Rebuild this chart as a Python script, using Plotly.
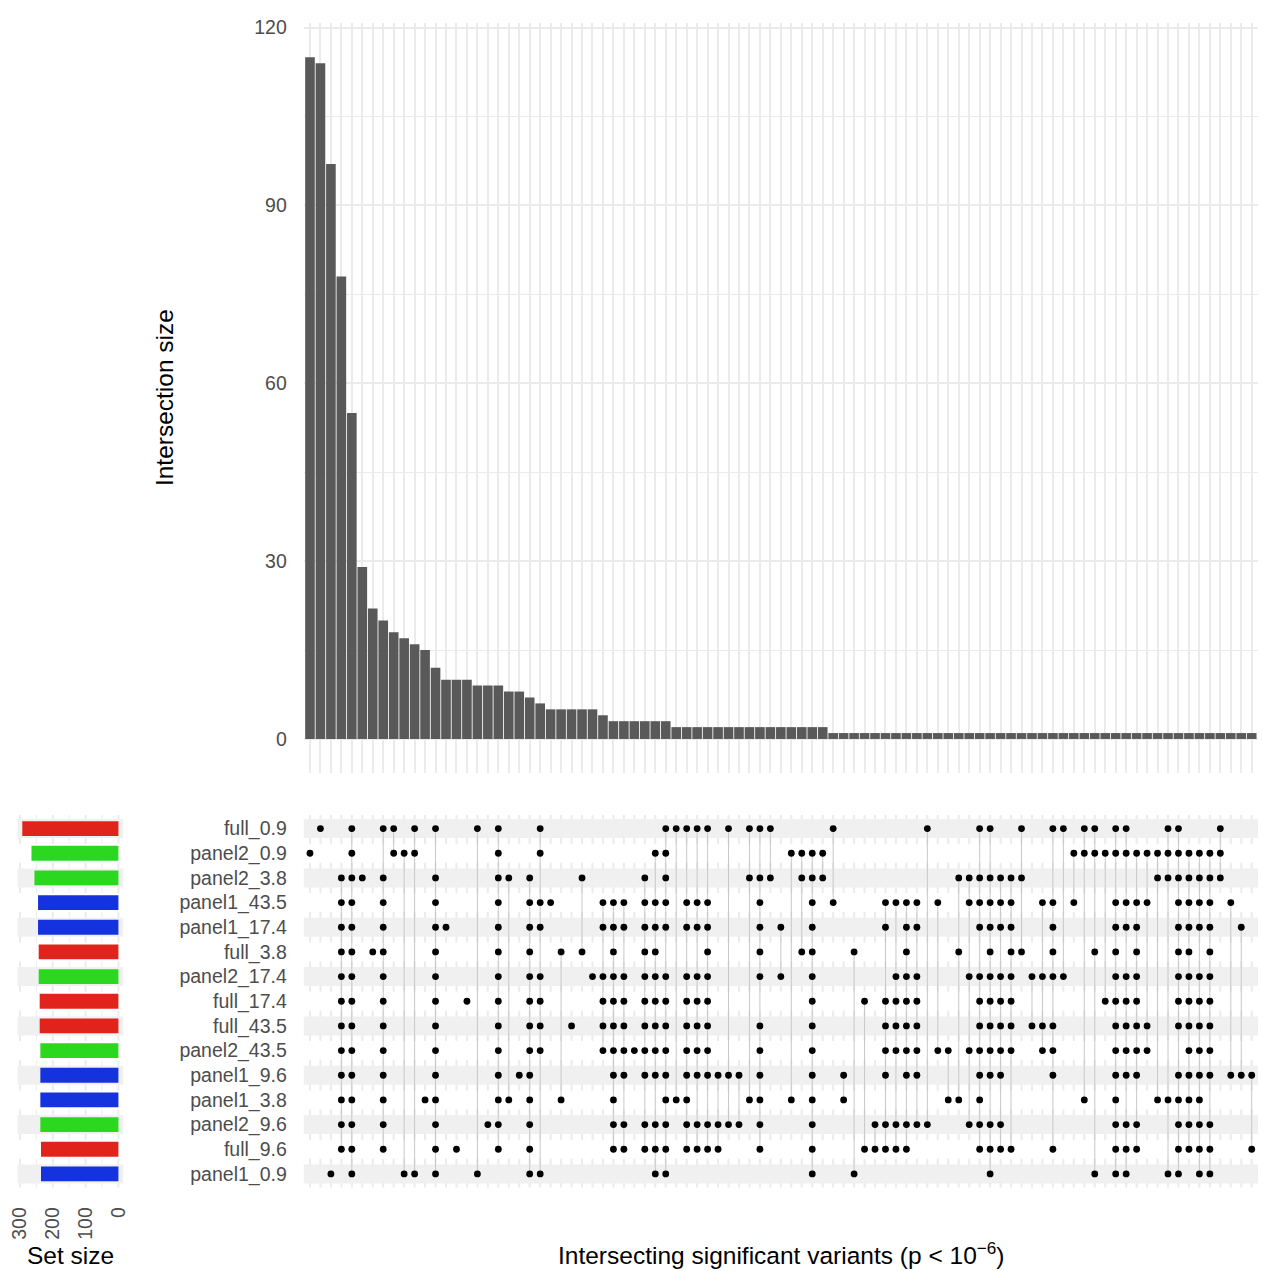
import plotly.graph_objects as go

# ---------------- data ----------------
sets = ["full_0.9", "panel2_0.9", "panel2_3.8", "panel1_43.5", "panel1_17.4",
        "full_3.8", "panel2_17.4", "full_17.4", "full_43.5", "panel2_43.5",
        "panel1_9.6", "panel1_3.8", "panel2_9.6", "full_9.6", "panel1_0.9"]
set_sizes = [293, 265, 256, 245, 245, 243, 243, 240, 240, 238, 238, 238, 238, 236, 236]
set_group = ["full", "panel2", "panel2", "panel1", "panel1", "full", "panel2", "full",
             "full", "panel2", "panel1", "panel1", "panel2", "full", "panel1"]

intersection_sizes = [115, 114, 97, 78, 55, 29, 22, 20, 18, 17, 16, 15, 12, 10, 10, 10,
                      9, 9, 9, 8, 8, 7, 6, 5, 5, 5, 5, 5, 4, 3, 3, 3, 3, 3, 3,
                      2, 2, 2, 2, 2, 2, 2, 2, 2, 2, 2, 2, 2, 2, 2,
                      1, 1, 1, 1, 1, 1, 1, 1, 1, 1, 1, 1, 1, 1, 1, 1, 1, 1, 1, 1,
                      1, 1, 1, 1, 1, 1, 1, 1, 1, 1, 1, 1, 1, 1, 1, 1, 1, 1, 1, 1, 1]

# intersection (column) indices that contain each set
m_full_0_9 = [1, 4, 7, 8, 10, 12, 16, 18, 22, 34, 35, 36, 37, 38, 40, 42, 43, 44, 50, 59, 64, 65,
              68, 71, 72, 74, 75, 77, 78, 82, 83, 87]
m_panel2_0_9 = [0, 4, 8, 9, 10, 18, 22, 33, 34, 46, 47, 48, 49, 73, 74, 75, 76, 77, 78, 79, 80,
                81, 82, 83, 84, 85, 86, 87]
m_panel2_3_8 = [3, 4, 5, 7, 12, 18, 19, 21, 26, 32, 34, 42, 43, 44, 47, 48, 49, 62, 63, 64, 65,
                66, 67, 68, 81, 82, 83, 84, 85, 86, 87]
m_panel1_43_5 = [3, 4, 7, 12, 18, 21, 22, 23, 28, 29, 30, 32, 33, 34, 36, 37, 38, 43, 48, 50, 55,
                 56, 57, 58, 60, 63, 64, 65, 66, 67, 70, 71, 73, 77, 78, 79, 80, 83, 84, 85, 86, 88]
m_panel1_17_4 = [3, 4, 7, 12, 13, 18, 21, 22, 28, 29, 30, 32, 33, 34, 36, 37, 38, 43, 45, 48, 55,
                 57, 58, 64, 65, 66, 67, 71, 77, 78, 79, 83, 84, 85, 86, 89]
m_full_3_8 = [3, 4, 6, 7, 12, 18, 21, 24, 26, 29, 32, 33, 38, 43, 47, 48, 52, 57, 62, 65, 67, 68,
              71, 75, 77, 79, 83, 84, 86]
m_panel2_17_4 = [3, 4, 7, 12, 18, 21, 22, 27, 28, 29, 30, 32, 33, 34, 36, 37, 38, 43, 45, 48, 56,
                 57, 58, 63, 64, 65, 66, 67, 69, 70, 71, 72, 77, 78, 79, 83, 84, 85, 86]
m_full_17_4 = [3, 4, 7, 12, 15, 18, 21, 22, 28, 29, 30, 32, 33, 34, 36, 37, 38, 48, 53, 55, 56,
               57, 58, 64, 65, 66, 67, 76, 77, 78, 79, 83, 84, 85, 86]
m_full_43_5 = [3, 4, 7, 12, 18, 21, 22, 25, 28, 29, 30, 32, 33, 34, 36, 37, 38, 43, 48, 55, 56,
               57, 58, 64, 65, 66, 67, 69, 70, 71, 77, 78, 79, 80, 83, 84, 85, 86]
m_panel2_43_5 = [3, 4, 7, 12, 18, 21, 22, 28, 29, 30, 31, 32, 33, 34, 36, 37, 38, 43, 48, 55, 56,
                 57, 58, 60, 61, 63, 64, 65, 66, 67, 70, 71, 77, 78, 79, 80, 84, 85, 86]
m_panel1_9_6 = [3, 4, 7, 12, 18, 20, 21, 29, 30, 32, 33, 34, 36, 37, 38, 39, 40, 41, 43, 48, 51,
                55, 57, 58, 64, 65, 66, 71, 77, 78, 79, 83, 84, 85, 86, 88, 89, 90]
m_panel1_3_8 = [3, 4, 7, 11, 12, 18, 19, 21, 24, 29, 34, 35, 36, 42, 43, 46, 48, 51, 61, 62, 64,
                74, 77, 81, 82, 83, 84, 85]
m_panel2_9_6 = [3, 4, 7, 12, 17, 18, 21, 29, 30, 32, 33, 34, 36, 37, 38, 39, 40, 41, 43, 48, 54,
                55, 56, 57, 58, 59, 63, 64, 65, 66, 77, 78, 79, 83, 84, 85, 86]
m_full_9_6 = [3, 4, 7, 12, 14, 18, 21, 29, 30, 32, 33, 34, 36, 37, 38, 39, 43, 48, 53, 54, 55,
              56, 57, 64, 65, 66, 67, 71, 77, 78, 79, 83, 84, 85, 86, 90]
m_panel1_0_9 = [2, 4, 9, 10, 12, 16, 21, 22, 33, 34, 48, 52, 65, 75, 77, 78, 82, 83, 85, 86]

membership = [m_full_0_9, m_panel2_0_9, m_panel2_3_8, m_panel1_43_5, m_panel1_17_4,
              m_full_3_8, m_panel2_17_4, m_full_17_4, m_full_43_5, m_panel2_43_5,
              m_panel1_9_6, m_panel1_3_8, m_panel2_9_6, m_full_9_6, m_panel1_0_9]

bar_ticks = [0, 30, 60, 90, 120]
bar_minor = [15, 45, 75, 105]
set_ticks = [0, 100, 200, 300]
set_minor = [50, 150, 250]

# ---------------- styles ----------------
group_colors = {"full": "#E1241B", "panel2": "#2BD81F", "panel1": "#1532DF"}
FONT = "Liberation Sans, Arial, sans-serif"
W, H = 1263, 1271
GRID = "#ebebeb"
TICK_COL = "#4d4d4d"

cols = list(range(len(intersection_sizes)))
rows = list(range(len(sets)))


def fx(x):  # window px -> paper x
    return x / W


def fy(y):  # window px -> paper y
    return 1 - y / H


fig = go.Figure()

# intersection bars
fig.add_trace(go.Bar(x=cols, y=intersection_sizes, width=0.92, marker_color="#595959",
                     marker_line_width=0, xaxis="x", yaxis="y", hoverinfo="y"))

# connecting lines in matrix
lx, ly = [], []
for c in cols:
    r = [i for i, m in enumerate(membership) if c in m]
    if len(r) > 1:
        lx += [c, c, None]
        ly += [min(r), max(r), None]
fig.add_trace(go.Scatter(x=lx, y=ly, mode="lines", line=dict(color="#c8c8c8", width=1),
                         xaxis="x2", yaxis="y2", hoverinfo="skip"))

# dots
dx, dy = [], []
for i, m in enumerate(membership):
    for c in m:
        dx.append(c)
        dy.append(i)
fig.add_trace(go.Scatter(x=dx, y=dy, mode="markers",
                         marker=dict(color="black", size=6.8, line=dict(width=0)),
                         xaxis="x2", yaxis="y2"))

# set size bars
fig.add_trace(go.Bar(x=set_sizes, y=rows, orientation="h", width=0.6,
                     marker_color=[group_colors[g] for g in set_group], marker_line_width=0,
                     xaxis="x3", yaxis="y3"))

# gridlines of matrix + set size panels (drawn as shapes below the row bands)
shapes = []
for c in cols:
    shapes.append(dict(type="line", xref="x2", yref="y2 domain", x0=c, x1=c, y0=0, y1=1,
                       line=dict(color=GRID, width=2), layer="below"))
for v in set_ticks:
    shapes.append(dict(type="line", xref="x3", yref="y3 domain", x0=v, x1=v, y0=0, y1=1,
                       line=dict(color=GRID, width=2), layer="below"))
for v in set_minor:
    shapes.append(dict(type="line", xref="x3", yref="y3 domain", x0=v, x1=v, y0=0, y1=1,
                       line=dict(color=GRID, width=1), layer="below"))
# row bands
for i in rows:
    fill = "#f0f0f0" if i % 2 == 0 else "white"
    for xr_, yr_ in (("x2 domain", "y2"), ("x3 domain", "y3")):
        shapes.append(dict(type="rect", xref=xr_, yref=yr_, x0=0, x1=1,
                           y0=i - 0.385, y1=i + 0.385,
                           fillcolor=fill, line=dict(width=0), layer="below"))

tickfont = dict(family=FONT, size=19.5, color=TICK_COL)
xr = [-0.6, len(cols) - 0.4]
yr = [len(sets) - 0.45, -0.55]
title_font = dict(family=FONT, size=24.5, color="black")

fig.update_layout(
    width=W, height=H, margin=dict(l=0, r=0, t=0, b=0), autosize=False,
    paper_bgcolor="white", plot_bgcolor="white", showlegend=False,
    font=dict(family=FONT, color="black"),
    shapes=shapes,
    xaxis=dict(domain=[fx(298), 1], range=xr, anchor="y", tickvals=cols, showticklabels=False,
               showgrid=True, gridcolor=GRID, gridwidth=2, zeroline=False, ticks=""),
    yaxis=dict(domain=[fy(770.3), fy(16.3)], range=[-5.75, 120.75], anchor="x",
               tickvals=bar_ticks, ticktext=[str(t) for t in bar_ticks], tickfont=tickfont,
               showgrid=True, gridcolor=GRID, gridwidth=2, zeroline=False,
               ticks="outside", ticklen=12, tickcolor="rgba(0,0,0,0)",
               minor=dict(tickvals=bar_minor, showgrid=True, gridcolor=GRID, gridwidth=1)),
    xaxis2=dict(domain=[fx(298), 1], range=xr, anchor="y2", matches="x",
                showticklabels=False, showgrid=False, zeroline=False, ticks=""),
    yaxis2=dict(domain=[fy(1187), fy(812.5)], range=yr, anchor="x2",
                tickvals=rows, ticktext=sets, tickfont=tickfont, showgrid=False,
                zeroline=False, ticks="outside", ticklen=12, tickcolor="rgba(0,0,0,0)"),
    xaxis3=dict(domain=[fx(8.6), fx(115.5)], range=[307.6, -14.6], anchor="y3",
                tickvals=set_ticks, ticktext=[str(t) for t in set_ticks], tickfont=tickfont,
                tickangle=-90, showgrid=False, zeroline=False, ticklabeloverflow="allow",
                ticks="outside", ticklen=11, tickcolor="rgba(0,0,0,0)"),
    yaxis3=dict(domain=[fy(1187), fy(812.5)], range=yr, anchor="x3",
                showticklabels=False, showgrid=False, zeroline=False, ticks=""),
    annotations=[
        dict(text="Intersection size", x=fx(158), y=fy(393), xref="paper", yref="paper",
             textangle=-90, showarrow=False, font=title_font,
             xanchor="center", yanchor="middle"),
        dict(text="Set size", x=fx(62), y=fy(1255), xref="paper", yref="paper",
             showarrow=False, font=title_font, xanchor="center", yanchor="middle"),
        dict(text="Intersecting significant variants (p &lt; 10<sup>\u22126</sup>)",
             x=fx(781), y=fy(1253), xref="paper", yref="paper",
             showarrow=False, font=title_font, xanchor="center", yanchor="middle"),
    ],
)

fig.write_html(
    "out.html",
    config={"displayModeBar": False, "responsive": False},
    post_script="document.body.style.margin='0';document.body.style.overflow='hidden';",
)
